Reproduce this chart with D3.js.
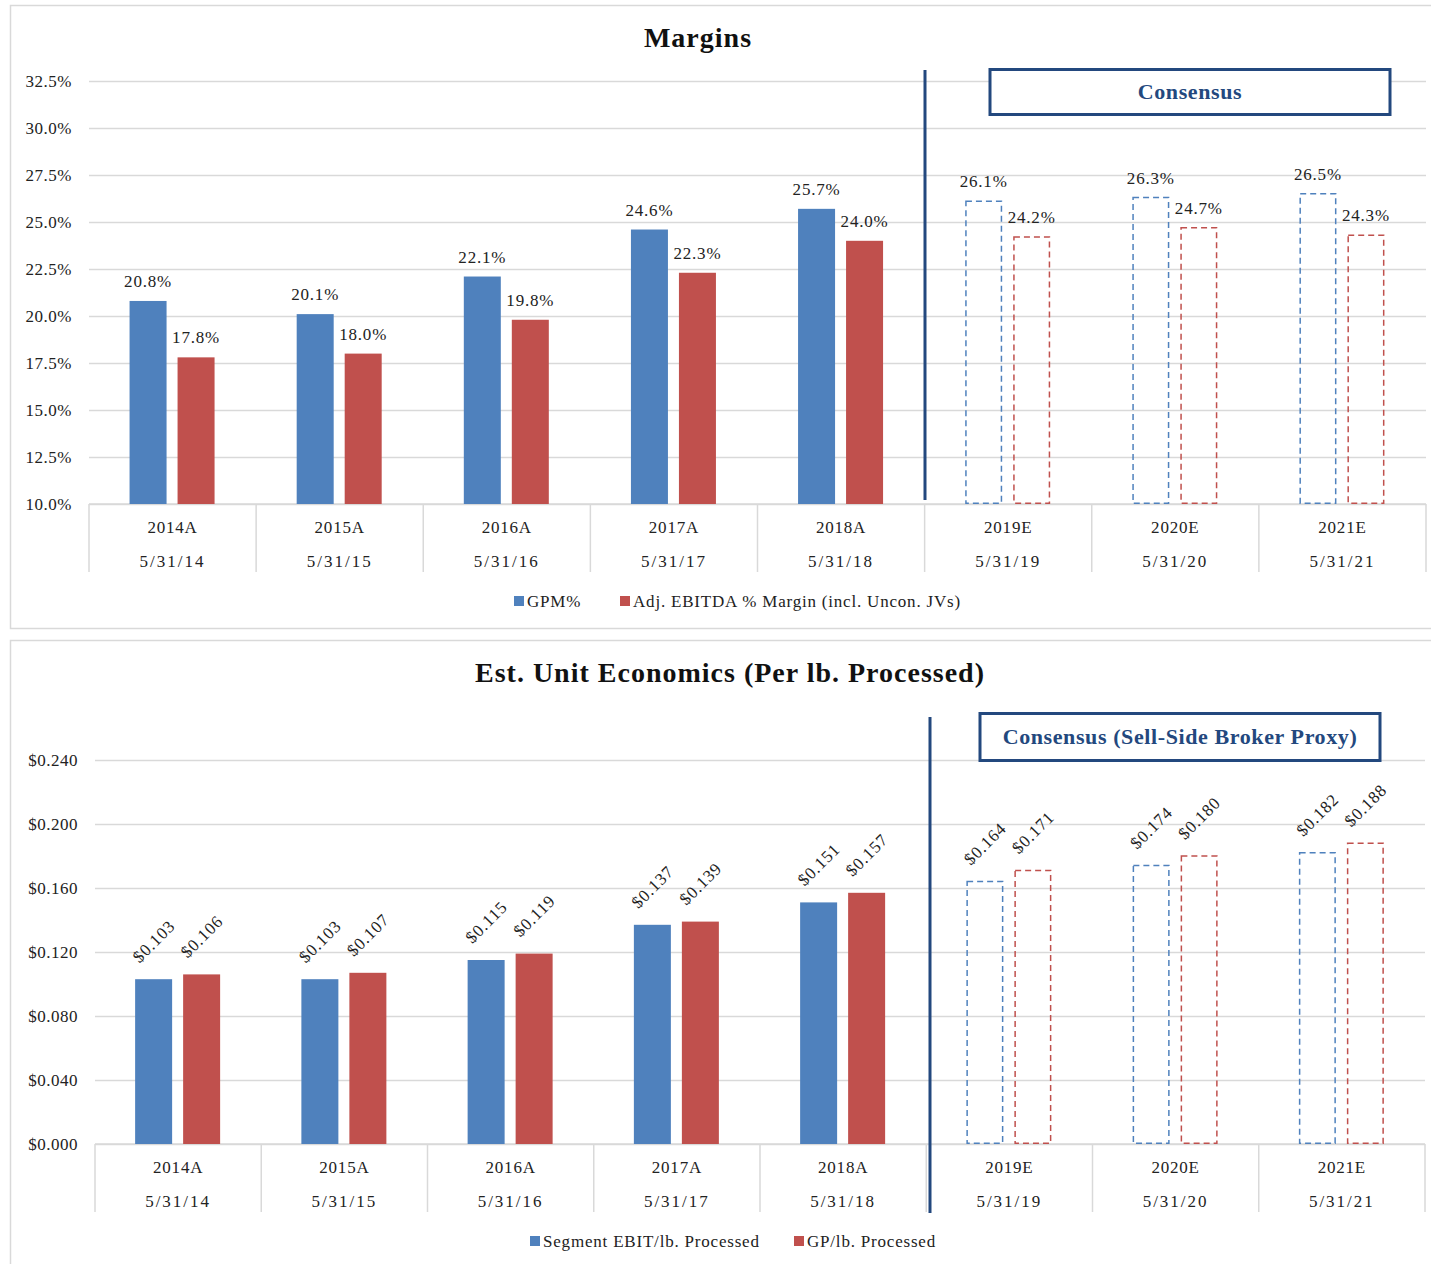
<!DOCTYPE html>
<html>
<head>
<meta charset="utf-8">
<script src="https://cdn.jsdelivr.net/npm/d3@7"></script>
<style>
  html, body { margin: 0; padding: 0; background: #fff; }
  svg { display: block; font-family: "Liberation Serif", "DejaVu Serif", serif; }
</style>
</head>
<body>
<svg id="chart" width="1431" height="1264"></svg>
<script>
// ---- Data ----
const years = ["2014A", "2015A", "2016A", "2017A", "2018A", "2019E", "2020E", "2021E"];
const dates = ["5/31/14", "5/31/15", "5/31/16", "5/31/17", "5/31/18", "5/31/19", "5/31/20", "5/31/21"];
const estimated = [false, false, false, false, false, true, true, true];

const gpmPct = [20.8, 20.1, 22.1, 24.6, 25.7, 26.1, 26.3, 26.5];
const ebitdaPct = [17.8, 18.0, 19.8, 22.3, 24.0, 24.2, 24.7, 24.3];
const marginTicks = [10, 12.5, 15, 17.5, 20, 22.5, 25, 27.5, 30, 32.5];

const ebitPerLb = [0.103, 0.103, 0.115, 0.137, 0.151, 0.164, 0.174, 0.182];
const gpPerLb = [0.106, 0.107, 0.119, 0.139, 0.157, 0.171, 0.180, 0.188];
const unitTicks = [0, 0.04, 0.08, 0.12, 0.16, 0.2, 0.24];

const BLUE = "#4F81BD", RED = "#C0504D", NAVY = "#23487E", GRID = "#D9D9D9", TEXT = "#222";
const FS = 17, LS = 0.8;

const svg = d3.select("#chart");

// panel frames
svg.append("rect").attr("x", 10.5).attr("y", 5.5).attr("width", 1440).attr("height", 623)
  .attr("fill", "none").attr("stroke", GRID).attr("stroke-width", 1.5);
svg.append("rect").attr("x", 10.5).attr("y", 640.5).attr("width", 1440).attr("height", 640)
  .attr("fill", "none").attr("stroke", GRID).attr("stroke-width", 1.5);

function drawChart(cfg) {
  const g = svg.append("g");
  const x = d3.scaleBand().domain(years).range([cfg.x0, cfg.x1]).padding(0);
  const y = d3.scaleLinear().domain(cfg.domain).range([cfg.yBottom, cfg.yTop]);

  // title
  g.append("text").attr("x", cfg.titleX).attr("y", cfg.titleY)
    .attr("text-anchor", "middle").attr("font-size", 28).attr("font-weight", "bold")
    .attr("letter-spacing", 1).attr("fill", "#111").text(cfg.title);

  // y axis with gridlines
  const yAxis = g.append("g").attr("transform", `translate(${cfg.x0},0)`)
    .call(d3.axisLeft(y).tickValues(cfg.ticks).tickFormat(cfg.tickFmt)
      .tickSize(-(cfg.x1 - cfg.x0)).tickPadding(17));
  yAxis.select(".domain").remove();
  yAxis.selectAll(".tick line").attr("stroke", GRID).attr("stroke-width", 1.5);
  yAxis.selectAll(".tick text").attr("font-size", FS).attr("fill", TEXT)
    .attr("letter-spacing", 0.5).attr("font-family", "Liberation Serif, serif");

  // category axis with separators
  const sepBottom = cfg.yBottom + 68;
  g.selectAll(".sep").data(years.concat(["_end"])).join("line")
    .attr("x1", (d, i) => i < years.length ? x(d) : cfg.x1)
    .attr("x2", (d, i) => i < years.length ? x(d) : cfg.x1)
    .attr("y1", cfg.yBottom).attr("y2", sepBottom)
    .attr("stroke", GRID).attr("stroke-width", 1.5);
  g.append("line").attr("x1", cfg.x0).attr("x2", cfg.x1)
    .attr("y1", cfg.yBottom).attr("y2", cfg.yBottom)
    .attr("stroke", GRID).attr("stroke-width", 1.5);
  g.selectAll(".yr").data(years).join("text")
    .attr("x", d => x(d) + x.bandwidth() / 2).attr("y", cfg.yBottom + 29)
    .attr("text-anchor", "middle").attr("font-size", FS).attr("fill", TEXT)
    .attr("letter-spacing", 0.8).text(d => d);
  g.selectAll(".dt").data(dates).join("text")
    .attr("x", (d, i) => x(years[i]) + x.bandwidth() / 2).attr("y", cfg.yBottom + 63)
    .attr("text-anchor", "middle").attr("font-size", FS).attr("fill", TEXT)
    .attr("letter-spacing", 2).text(d => d);

  // bars
  const bw = 37;
  const series = [
    { vals: cfg.s1, color: BLUE, off: -43 },
    { vals: cfg.s2, color: RED, off: 5 }
  ];
  series.forEach(s => {
    s.vals.forEach((v, i) => {
      const cx = x(years[i]) + x.bandwidth() / 2;
      const bx = cx + s.off;
      const top = y(v);
      if (!estimated[i]) {
        g.append("rect").attr("x", bx).attr("y", top).attr("width", bw)
          .attr("height", cfg.yBottom - top).attr("fill", s.color);
      } else {
        g.append("rect").attr("x", bx + 0.75).attr("y", top).attr("width", bw - 1.5)
          .attr("height", cfg.yBottom - top - 0.75).attr("fill", "none")
          .attr("stroke", s.color).attr("stroke-width", 1.5).attr("stroke-dasharray", "6,4");
      }
      const lx = bx + bw / 2;
      if (cfg.rotated) {
        g.append("text").attr("transform", `translate(${lx},${top - 38}) rotate(-45)`)
          .attr("text-anchor", "middle").attr("dy", "0.35em")
          .attr("font-size", FS).attr("letter-spacing", LS).attr("fill", TEXT).text(cfg.labelFmt(v));
      } else {
        g.append("text").attr("x", lx).attr("y", top - 14)
          .attr("text-anchor", "middle").attr("font-size", FS).attr("letter-spacing", LS)
          .attr("fill", TEXT).text(cfg.labelFmt(v));
      }
    });
  });

  // actual / consensus divider
  g.append("line").attr("x1", cfg.divX).attr("x2", cfg.divX)
    .attr("y1", cfg.divY0).attr("y2", cfg.divY1)
    .attr("stroke", NAVY).attr("stroke-width", 3);

  // consensus box
  g.append("rect").attr("x", cfg.box[0]).attr("y", cfg.box[1])
    .attr("width", cfg.box[2]).attr("height", cfg.box[3])
    .attr("fill", "#fff").attr("stroke", NAVY).attr("stroke-width", 3);
  g.append("text").attr("x", cfg.box[0] + cfg.box[2] / 2).attr("y", cfg.box[1] + cfg.box[3] / 2 + 7)
    .attr("text-anchor", "middle").attr("font-size", 22).attr("font-weight", "bold")
    .attr("letter-spacing", 0.6).attr("fill", NAVY).text(cfg.boxText);

  // legend
  const lg = g.append("g");
  cfg.legend.forEach(l => {
    lg.append("rect").attr("x", l.x).attr("y", cfg.legendY - 11).attr("width", 10).attr("height", 10)
      .attr("fill", l.color);
    lg.append("text").attr("x", l.x + 13).attr("y", cfg.legendY).attr("font-size", FS)
      .attr("letter-spacing", LS).attr("fill", TEXT).text(l.text);
  });
}

drawChart({
  title: "Margins", titleX: 698, titleY: 47,
  x0: 89, x1: 1426, yTop: 81, yBottom: 504,
  domain: [10, 32.5], ticks: marginTicks,
  tickFmt: d => d.toFixed(1) + "%",
  s1: gpmPct, s2: ebitdaPct, rotated: false,
  labelFmt: v => v.toFixed(1) + "%",
  divX: 925, divY0: 70, divY1: 500,
  box: [990, 69.5, 400, 45], boxText: "Consensus",
  legendY: 607,
  legend: [
    { x: 514, color: BLUE, text: "GPM%" },
    { x: 620, color: RED, text: "Adj. EBITDA % Margin (incl. Uncon. JVs)" }
  ]
});

drawChart({
  title: "Est. Unit Economics (Per lb. Processed)", titleX: 730, titleY: 682,
  x0: 95, x1: 1425, yTop: 760, yBottom: 1144,
  domain: [0, 0.24], ticks: unitTicks,
  tickFmt: d => "$" + d.toFixed(3),
  s1: ebitPerLb, s2: gpPerLb, rotated: true,
  labelFmt: v => "$" + v.toFixed(3),
  divX: 930, divY0: 717, divY1: 1213,
  box: [980, 713.5, 400, 47], boxText: "Consensus (Sell-Side Broker Proxy)",
  legendY: 1247,
  legend: [
    { x: 530, color: BLUE, text: "Segment EBIT/lb. Processed" },
    { x: 794, color: RED, text: "GP/lb. Processed" }
  ]
});
</script>
</body>
</html>
